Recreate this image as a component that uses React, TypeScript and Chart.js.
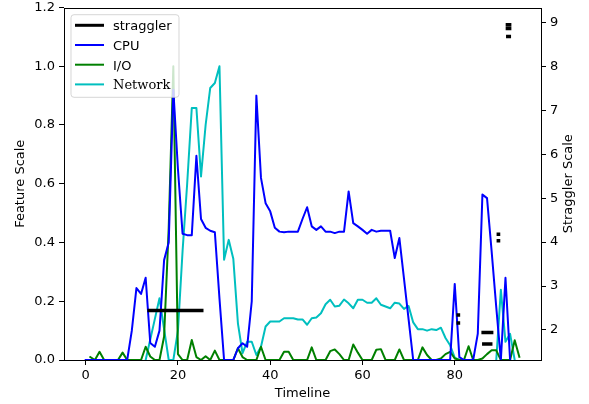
import React, { useEffect, useRef } from 'react';
import { Chart, registerables } from 'chart.js';

Chart.register(...registerables);

// ---------------- data ----------------
const timeline = [
  0, 1, 2, 3, 4, 5, 6, 7, 8, 9,
  10, 11, 12, 13, 14, 15, 16, 17, 18, 19,
  20, 21, 22, 23, 24, 25, 26, 27, 28, 29,
  30, 31, 32, 33, 34, 35, 36, 37, 38, 39,
  40, 41, 42, 43, 44, 45, 46, 47, 48, 49,
  50, 51, 52, 53, 54, 55, 56, 57, 58, 59,
  60, 61, 62, 63, 64, 65, 66, 67, 68, 69,
  70, 71, 72, 73, 74, 75, 76, 77, 78, 79,
  80, 81, 82, 83, 84, 85, 86, 87, 88, 89,
  90, 91, 92, 93, 94,
];

const cpu: (number | null)[] = [
  0, 0, 0, 0, 0, 0, 0, 0, 0, 0,
  0.1, 0.245, 0.225, 0.28, 0.058, 0.045, 0.1, 0.34, 0.4, 0.92,
  0.65, 0.43, 0.425, 0.425, 0.695, 0.48, 0.45, 0.44, 0.435, 0.21,
  0, 0, 0, 0.04, 0.057, 0.045, 0.2, 0.9, 0.62, 0.534,
  0.506, 0.45, 0.437, 0.435, 0.437, 0.437, 0.437, 0.48, 0.52, 0.455,
  0.443, 0.455, 0.437, 0.437, 0.432, 0.437, 0.437, 0.574, 0.466, 0.455,
  0.443, 0.43, 0.443, 0.437, 0.44, 0.44, 0.44, 0.347, 0.415, 0.277,
  0.138, 0, 0, 0, 0, 0, 0, 0, 0, 0,
  0.259, 0.01, 0, 0, 0, 0.09, 0.563, 0.551, 0.37, 0.18,
  0, 0.28, 0, null, null,
];

const io: (number | null)[] = [
  null, 0.01, 0, 0.028, 0, 0, 0, 0, 0.025, 0,
  0, 0, 0, 0.045, 0.012, 0, 0, 0.08, 0.45, 1.0,
  0.02, 0, 0, 0.068, 0.01, 0, 0.013, 0, 0.032, 0,
  0, 0, 0, 0.04, 0.01, 0, 0, 0, 0.045, 0,
  0, 0, 0, 0.028, 0.028, 0, 0, 0, 0, 0.043,
  0, 0, 0, 0.03, 0.036, 0.02, 0, 0, 0.053, 0.025,
  0, 0, 0, 0.035, 0.037, 0, 0, 0, 0.036, 0,
  0, 0, 0, 0.043, 0.017, 0, 0, 0.005, 0.02, 0.028,
  0.005, 0, 0, 0.047, 0, 0, 0.005, 0.02, 0.033, 0.033,
  0, 0, 0, 0.067, 0.011,
];

const network: (number | null)[] = [
  null, null, null, null, null, null, null, null, null, null,
  null, null, null, 0, 0.07, 0.14, 0.21, 0.105, 0, 0,
  0.1, 0.37, 0.6, 0.858, 0.858, 0.625, 0.8, 0.926, 0.943, 1.0,
  0.341, 0.409, 0.345, 0.125, 0.023, 0.062, 0.062, 0.017, 0.045, 0.114,
  0.131, 0.131, 0.131, 0.142, 0.142, 0.142, 0.138, 0.138, 0.12, 0.142,
  0.145, 0.159, 0.19, 0.205, 0.182, 0.185, 0.206, 0.193, 0.176, 0.205,
  0.205, 0.195, 0.195, 0.21, 0.188, 0.182, 0.176, 0.195, 0.192, 0.174,
  0.184, 0.128, 0.105, 0.105, 0.1, 0.105, 0.102, 0.11, 0.075, 0.05,
  0.008, 0, null, null, null, null, null, null, null, 0,
  0.239, 0.062, 0.089, 0, null,
];

// straggler marks: horizontal pieces on the right-hand scale
const stragglerStart = [13.76, 80.76, 80.76, 86.16, 86.3, 89.45, 89.45, 91.42, 91.42, 91.5];
const stragglerEnd = [25.16, 80.8, 80.8, 88.0, 87.8, 89.49, 89.49, 91.9, 91.9, 91.83];
const stragglerLevel = [2.44, 2.34, 2.16, 1.94, 1.68, 4.18, 4.03, 8.95, 8.86, 8.68];

const xTicks = [0, 20, 40, 60, 80];
const featureTicks = [0, 0.2, 0.4, 0.6, 0.8, 1.0, 1.2];
const stragglerTicks = [2, 3, 4, 5, 6, 7, 8, 9];

const legendLabels = ['straggler', 'CPU', 'I/O', 'Network'];

// ---------------- styles ----------------
const COLORS = { straggler: '#000000', cpu: '#0000ff', io: '#008000', network: '#00bfbf' };
const FAMILY = '"DejaVu Sans", "Liberation Sans", sans-serif';
const SERIF = '"DejaVu Serif", "Liberation Serif", serif';

const toPoints = (vals: (number | null)[]) => timeline.map((t, i) => ({ x: t, y: vals[i] }));

const stragglerPoints = stragglerStart.flatMap((s, i) => [
  { x: s, y: stragglerLevel[i] as number | null },
  { x: stragglerEnd[i], y: stragglerLevel[i] as number | null },
  { x: stragglerEnd[i], y: null as number | null },
]);

const decorPlugin = {
  id: 'decor',
  afterDraw(chart: any) {
    const { ctx, chartArea: ca } = chart;
    ctx.save();
    // frame (spines)
    ctx.strokeStyle = '#000';
    ctx.lineWidth = 1;
    ctx.strokeRect(
      Math.round(ca.left) + 0.5,
      Math.round(ca.top) + 0.5,
      Math.round(ca.right) - Math.round(ca.left),
      Math.round(ca.bottom) - Math.round(ca.top)
    );

    // legend
    const fx = ca.left + 7;
    const fy = ca.top + 7.2;
    const fw = 108;
    const fh = 82.6;
    const r = 3;
    ctx.beginPath();
    ctx.moveTo(fx + r, fy);
    ctx.lineTo(fx + fw - r, fy);
    ctx.quadraticCurveTo(fx + fw, fy, fx + fw, fy + r);
    ctx.lineTo(fx + fw, fy + fh - r);
    ctx.quadraticCurveTo(fx + fw, fy + fh, fx + fw - r, fy + fh);
    ctx.lineTo(fx + r, fy + fh);
    ctx.quadraticCurveTo(fx, fy + fh, fx, fy + fh - r);
    ctx.lineTo(fx, fy + r);
    ctx.quadraticCurveTo(fx, fy, fx + r, fy);
    ctx.closePath();
    ctx.globalAlpha = 0.8;
    ctx.fillStyle = '#ffffff';
    ctx.fill();
    ctx.strokeStyle = '#cccccc';
    ctx.lineWidth = 1;
    ctx.stroke();
    ctx.globalAlpha = 1;

    const colors = [COLORS.straggler, COLORS.cpu, COLORS.io, COLORS.network];
    const widths = [3, 2, 2, 2];
    legendLabels.forEach((label, i) => {
      const y = fy + 10.6 + i * 19.7;
      ctx.beginPath();
      ctx.strokeStyle = colors[i];
      ctx.lineWidth = widths[i];
      ctx.lineCap = 'butt';
      ctx.moveTo(fx + 4, y);
      ctx.lineTo(fx + 33, y);
      ctx.stroke();
      ctx.fillStyle = '#000';
      ctx.font = `13px ${label === 'Network' ? SERIF : FAMILY}`;
      ctx.textAlign = 'left';
      ctx.textBaseline = 'alphabetic';
      ctx.fillText(label, fx + 42, y + 4.8);
    });

    // axis titles
    const cy = (ca.top + ca.bottom) / 2;
    ctx.fillStyle = '#000';
    ctx.font = `13px ${FAMILY}`;
    ctx.textAlign = 'center';
    ctx.textBaseline = 'middle';
    ctx.fillText('Timeline', (ca.left + ca.right) / 2, 394);

    ctx.save();
    ctx.translate(21, cy);
    ctx.rotate(-Math.PI / 2);
    ctx.fillText('Feature Scale', 0, 0);
    ctx.restore();

    ctx.save();
    ctx.translate(569, cy);
    ctx.rotate(-Math.PI / 2);
    ctx.fillText('Straggler Scale', 0, 0);
    ctx.restore();

    ctx.restore();
  },
};

const tickFont = { family: FAMILY, size: 13 };
const axisGrid = { display: true, drawOnChartArea: false, drawTicks: true, tickLength: 5, color: '#000', tickWidth: 1 };

export default function App() {
  const ref = useRef<HTMLCanvasElement>(null);

  useEffect(() => {
    if (!ref.current) return;
    const lineBase = {
      pointRadius: 0,
      pointHoverRadius: 0,
      tension: 0,
      borderWidth: 2,
      borderJoinStyle: 'round' as const,
      borderCapStyle: 'square' as const,
      fill: false,
      spanGaps: false,
      clip: 0,
    };
    const chart = new Chart(ref.current, {
      type: 'line',
      data: {
        datasets: [
          {
            ...lineBase,
            label: 'straggler',
            data: stragglerPoints,
            borderColor: COLORS.straggler,
            backgroundColor: COLORS.straggler,
            borderWidth: 3.5,
            tension: 0.000001,
            yAxisID: 'y2',
          },
          {
            ...lineBase,
            label: 'CPU',
            data: toPoints(cpu),
            borderColor: COLORS.cpu,
            backgroundColor: COLORS.cpu,
            yAxisID: 'y',
          },
          {
            ...lineBase,
            label: 'I/O',
            data: toPoints(io),
            borderColor: COLORS.io,
            backgroundColor: COLORS.io,
            yAxisID: 'y',
          },
          {
            ...lineBase,
            label: 'Network',
            data: toPoints(network),
            borderColor: COLORS.network,
            backgroundColor: COLORS.network,
            yAxisID: 'y',
          },
        ] as any,
      },
      options: {
        animation: false,
        responsive: false,
        devicePixelRatio: 1,
        events: [],
        layout: { padding: { top: 7.5, left: 0, right: 0, bottom: 0 } },
        plugins: { legend: { display: false }, tooltip: { enabled: false }, title: { display: false } },
        scales: {
          x: {
            type: 'linear',
            min: -4.7,
            max: 98.7,
            afterBuildTicks: (s: any) => {
              s.ticks = xTicks.map((v) => ({ value: v }));
            },
            afterFit: (s: any) => {
              s.height = 44;
              s.paddingLeft = 0;
              s.paddingRight = 0;
            },
            ticks: {
              font: tickFont,
              color: '#000',
              padding: 3,
              maxRotation: 0,
              autoSkip: false,
              callback: (v: any) => String(v),
            },
            grid: axisGrid,
            border: { display: false },
          },
          y: {
            type: 'linear',
            position: 'left',
            min: 0,
            max: 1.2,
            afterBuildTicks: (s: any) => {
              s.ticks = featureTicks.map((v) => ({ value: v }));
            },
            afterFit: (s: any) => {
              s.width = 64;
              s.paddingTop = 0;
              s.paddingBottom = 0;
            },
            ticks: {
              font: tickFont,
              color: '#000',
              padding: 4,
              autoSkip: false,
              callback: (v: any) => Number(v).toFixed(1),
            },
            grid: axisGrid,
            border: { display: false },
          },
          y2: {
            type: 'linear',
            position: 'right',
            min: 1.316,
            max: 9.34,
            afterBuildTicks: (s: any) => {
              s.ticks = stragglerTicks.map((v) => ({ value: v }));
            },
            afterFit: (s: any) => {
              s.width = 48;
              s.paddingTop = 0;
              s.paddingBottom = 0;
            },
            ticks: {
              font: tickFont,
              color: '#000',
              padding: 4,
              autoSkip: false,
              callback: (v: any) => String(v),
            },
            grid: axisGrid,
            border: { display: false },
          },
        },
      } as any,
      plugins: [decorPlugin],
    });
    return () => chart.destroy();
  }, []);

  return (
    <div style={{ position: 'absolute', left: 0, top: 0, width: 589, height: 404, background: '#fff' }}>
      <canvas ref={ref} width={589} height={404} style={{ display: 'block', width: 589, height: 404 }} />
    </div>
  );
}
